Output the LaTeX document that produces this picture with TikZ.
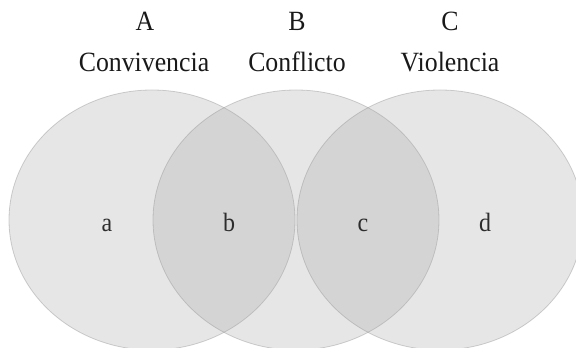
\documentclass[tikz,border=0pt]{standalone}
\usepackage{fontspec}
\setmainfont{Liberation Serif}
\definecolor{setfill}{RGB}{166,166,166}
\definecolor{setline}{RGB}{150,150,150}
\definecolor{txt}{RGB}{25,25,25}
\definecolor{lbl}{RGB}{45,45,45}
\tikzset{
  setshape/.style={ellipse,minimum width=286pt,minimum height=260pt,inner sep=0pt,
    fill=setfill,fill opacity=0.28,draw=setline,draw opacity=0.45,line width=0.8pt},
  head/.style={anchor=base,inner sep=0pt,text=txt,font=\fontsize{25.8}{30}\selectfont},
  region/.style={anchor=base,inner sep=0pt,text=lbl,font=\fontsize{24}{28}\selectfont}
}
\usetikzlibrary{shapes.geometric}
\begin{document}
\begin{tikzpicture}[x=1pt,y=1pt]
\useasboundingbox (0,0) rectangle (576,348);
\clip (0,0) rectangle (576,348);
\node[setshape] (SA) at (152,128) {};
\node[setshape] (SB) at (296,128) {};
\node[setshape] (SC) at (440,128) {};
\node[head] (lA) at (145,317) {\scalebox{1}[1.08]{A}};
\node[head] (lB) at (297,317) {\scalebox{1}[1.08]{B}};
\node[head] (lC) at (450,317) {\scalebox{1}[1.08]{C}};
\node[head] (nA) at (144,276) {\scalebox{1}[1.08]{Convivencia}};
\node[head] (nB) at (297,276) {\scalebox{1}[1.08]{Conflicto}};
\node[head] (nC) at (450,276) {\scalebox{1}[1.08]{Violencia}};
\node[region] (ra) at (107,116) {\scalebox{1}[1.1]{a}};
\node[region] (rb) at (229,116) {\scalebox{1}[1.1]{b}};
\node[region] (rc) at (363,116) {\scalebox{1}[1.1]{c}};
\node[region] (rd) at (485,116) {\scalebox{1}[1.1]{d}};
\end{tikzpicture}
\end{document}
